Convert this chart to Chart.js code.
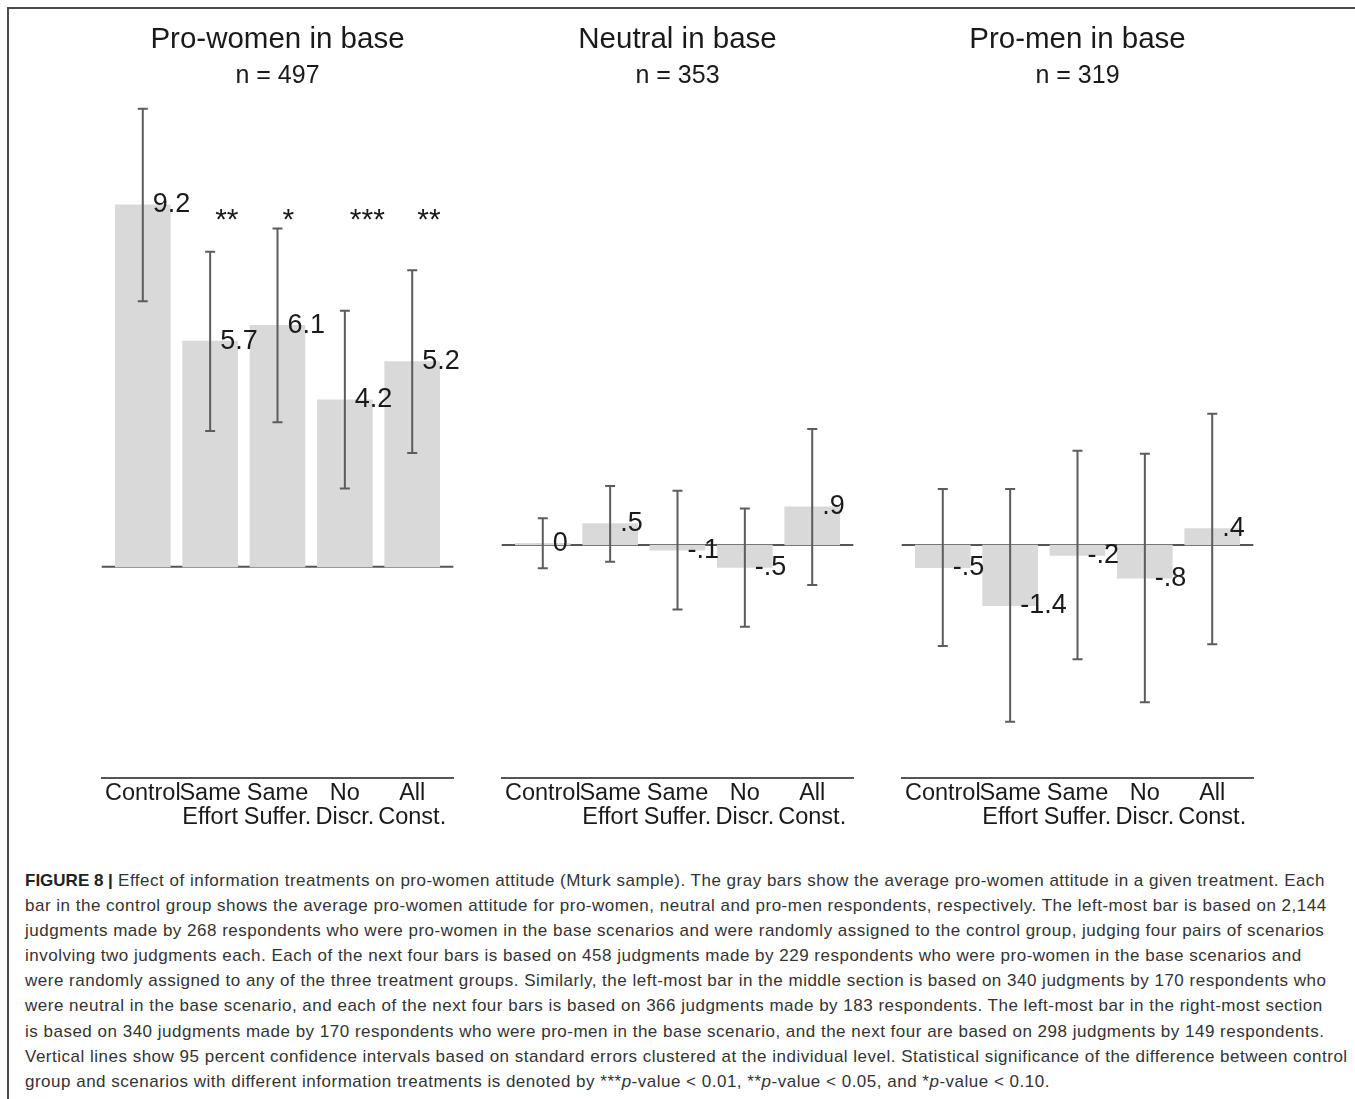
<!DOCTYPE html>
<html>
<head>
<meta charset="utf-8">
<script src="https://cdn.jsdelivr.net/npm/chart.js@4.4.1/dist/chart.umd.min.js"></script>
<style>
  body { margin: 0; background: #fff; }
  #page { position: relative; width: 1355px; height: 1099px; overflow: hidden; font-family: "Liberation Sans", Arial, sans-serif; }
  #frame { position: absolute; left: 7px; top: 7px; width: 1400px; height: 1200px; border-top: 2px solid #4a4a4a; border-left: 2px solid #4a4a4a; }
  .panel { position: absolute; top: 0; }
  #caption { position: absolute; left: 25px; top: 868px; font-size: 17px; letter-spacing: 0.5px; line-height: 25.1px; color: #333; white-space: nowrap; }
  #caption b { color: #222; letter-spacing: 0; }
</style>
</head>
<body>
<div id="page">
  <div id="frame"></div>
  <canvas id="p1" class="panel" style="left:80px" width="400" height="850"></canvas>
  <canvas id="p2" class="panel" style="left:480px" width="400" height="850"></canvas>
  <canvas id="p3" class="panel" style="left:880px" width="400" height="850"></canvas>
  <div id="caption">
    <b>FIGURE 8 |</b> Effect of information treatments on pro-women attitude (Mturk sample). The gray bars show the average pro-women attitude in a given treatment. Each<br>
    bar in the control group shows the average pro-women attitude for pro-women, neutral and pro-men respondents, respectively. The left-most bar is based on 2,144<br>
    judgments made by 268 respondents who were pro-women in the base scenarios and were randomly assigned to the control group, judging four pairs of scenarios<br>
    involving two judgments each. Each of the next four bars is based on 458 judgments made by 229 respondents who were pro-women in the base scenarios and<br>
    were randomly assigned to any of the three treatment groups. Similarly, the left-most bar in the middle section is based on 340 judgments by 170 respondents who<br>
    were neutral in the base scenario, and each of the next four bars is based on 366 judgments made by 183 respondents. The left-most bar in the right-most section<br>
    is based on 340 judgments made by 170 respondents who were pro-men in the base scenario, and the next four are based on 298 judgments by 149 respondents.<br>
    Vertical lines show 95 percent confidence intervals based on standard errors clustered at the individual level. Statistical significance of the difference between control<br>
    group and scenarios with different information treatments is denoted by ***<i>p</i>-value &lt; 0.01, **<i>p</i>-value &lt; 0.05, and *<i>p</i>-value &lt; 0.10.
  </div>
</div>
<script>
// data
const treatments = ['Control', ['Same', 'Effort'], ['Same', 'Suffer.'], ['No', 'Discr.'], ['All', 'Const.']];

const proWomen = [9.19, 5.73, 6.13, 4.24, 5.21];
const proWomenLo = [6.74, 3.45, 3.67, 1.99, 2.89];
const proWomenHi = [11.63, 8.00, 8.59, 6.50, 7.53];
const proWomenStars = ['', '**', '*', '***', '**'];

const neutral = [0.04, 0.50, -0.12, -0.52, 0.89];
const neutralLo = [-0.54, -0.39, -1.50, -1.90, -0.93];
const neutralHi = [0.62, 1.37, 1.26, 0.85, 2.70];

const proMen = [-0.53, -1.41, -0.24, -0.77, 0.38];
const proMenLo = [-2.35, -4.11, -2.66, -3.66, -2.31];
const proMenHi = [1.30, 1.30, 2.19, 2.12, 3.05];

const starLevel = 8.78;
const font = '"Liberation Sans", Arial, sans-serif';

// stata style: no leading zero, 0.0 shown as 0
function fmt(v) {
    const s = v.toFixed(1);
    if (s === '0.0' || s === '-0.0') return '0';
    return s.replace(/^(-?)0\./, '$1.');
}

const whiskers = {
    id: 'whiskers',
    beforeDatasetsDraw(chart) {
        const ctx = chart.ctx, a = chart.chartArea;
        const y0 = chart.scales.y.getPixelForValue(0);
        ctx.save();
        ctx.strokeStyle = '#555';
        ctx.lineWidth = 2;
        ctx.beginPath();
        ctx.moveTo(a.left, y0);
        ctx.lineTo(a.right, y0);
        ctx.stroke();
        ctx.restore();
    },
    afterDatasetsDraw(chart, args, opts) {
        const ctx = chart.ctx, xs = chart.scales.x, ys = chart.scales.y;
        const vals = chart.data.datasets[0].data;
        ctx.save();
        ctx.strokeStyle = '#5c5c5c';
        ctx.lineWidth = 2;
        vals.forEach((d, i) => {
            const x = xs.getPixelForValue(d.x);
            const yl = ys.getPixelForValue(opts.lo[i]);
            const yh = ys.getPixelForValue(opts.hi[i]);
            ctx.beginPath();
            ctx.moveTo(x, yl); ctx.lineTo(x, yh);
            ctx.moveTo(x - 5, yl); ctx.lineTo(x + 5, yl);
            ctx.moveTo(x - 5, yh); ctx.lineTo(x + 5, yh);
            ctx.stroke();
        });
        ctx.fillStyle = '#1a1a1a';
        ctx.textAlign = 'left';
        ctx.textBaseline = 'middle';
        vals.forEach((d, i) => {
            const x = xs.getPixelForValue(d.x);
            ctx.font = '27px ' + font;
            ctx.fillText(fmt(d.y), x + 10, ys.getPixelForValue(d.y));
            if (opts.stars && opts.stars[i]) {
                ctx.font = '30px ' + font;
                ctx.fillText(opts.stars[i], x + 5, ys.getPixelForValue(starLevel));
            }
        });
        ctx.restore();
    }
};

function makePanel(id, title, sub, values, lo, hi, stars, yMin, yMax) {
    new Chart(document.getElementById(id), {
        type: 'bar',
        data: {
            datasets: [{
                data: values.map((v, i) => ({ x: i, y: v })),
                backgroundColor: '#d9d9d9',
                borderWidth: 0,
                barThickness: 55
            }]
        },
        options: {
            responsive: false,
            animation: false,
            layout: { padding: { left: 21.7, right: 26.7, top: 0, bottom: 2 } },
            plugins: {
                legend: { display: false },
                tooltip: { enabled: false },
                title: {
                    display: true, text: title, color: '#1a1a1a',
                    font: { family: font, size: 29.5, weight: 'normal', lineHeight: 1.2 },
                    padding: { top: 22, bottom: 0 }
                },
                subtitle: {
                    display: true, text: sub, color: '#1a1a1a',
                    font: { family: font, size: 25, weight: 'normal', lineHeight: 1.2 },
                    padding: { top: 4, bottom: 8.6 }
                },
                whiskers: { lo: lo, hi: hi, stars: stars }
            },
            scales: {
                x: {
                    type: 'linear', min: -0.61, max: 4.61, offset: false,
                    grid: { display: false, drawTicks: false },
                    border: { display: true, color: '#555', width: 2 },
                    ticks: {
                        autoSkip: false, padding: 4, color: '#1a1a1a', maxRotation: 0,
                        font: { family: font, size: 23.5, lineHeight: 1.02 },
                        callback: v => treatments[v]
                    },
                    afterBuildTicks: s => { s.ticks = treatments.map((_, i) => ({ value: i })); },
                    afterFit: s => { s.height = 70; }
                },
                y: { display: false, min: yMin, max: yMax }
            }
        },
        plugins: [whiskers]
    });
}

makePanel('p1', 'Pro-women in base', 'n = 497', proWomen, proWomenLo, proWomenHi, proWomenStars, -5.36, 11.85);
makePanel('p2', 'Neutral in base', 'n = 353', neutral, neutralLo, neutralHi, null, -5.42, 10.35);
makePanel('p3', 'Pro-men in base', 'n = 319', proMen, proMenLo, proMenHi, null, -5.42, 10.35);
</script>
</body>
</html>
